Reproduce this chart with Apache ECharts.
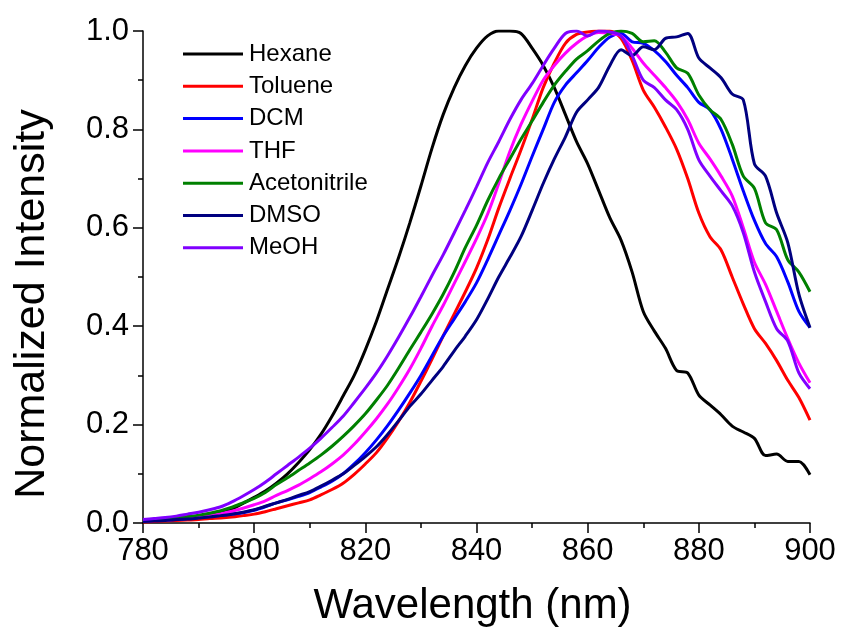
<!DOCTYPE html>
<html>
<head>
<meta charset="utf-8">
<script src="https://cdn.jsdelivr.net/npm/echarts@6/dist/echarts.min.js"></script>
<style>
  html, body { margin: 0; padding: 0; background: #fff; }
  #main { width: 843px; height: 630px; }
</style>
</head>
<body>
<div id="main"></div>
<script>
// wavelength grid (nm), 780..900 step 2
const wavelength = [780, 782, 784, 786, 788, 790, 792, 794, 796, 798, 800, 802, 804, 806, 808, 810,
  812, 814, 816, 818, 820, 822, 824, 826, 828, 830, 832, 834, 836, 838, 840, 842, 844, 846, 848, 850,
  852, 854, 856, 858, 860, 862, 864, 866, 868, 870, 872, 874, 876, 878, 880, 882, 884, 886, 888, 890,
  892, 894, 896, 898, 900]

const hexane = [0.004, 0.005, 0.006, 0.008, 0.011, 0.014, 0.018, 0.023, 0.029, 0.040, 0.052, 0.065,
  0.081, 0.100, 0.123, 0.149, 0.180, 0.217, 0.258, 0.300, 0.352, 0.410, 0.475, 0.540, 0.610, 0.685,
  0.762, 0.830, 0.885, 0.930, 0.965, 0.990, 1.000, 1.000, 0.995, 0.965, 0.930, 0.885, 0.830, 0.775,
  0.730, 0.675, 0.620, 0.575, 0.510, 0.430, 0.390, 0.355, 0.310, 0.305, 0.260, 0.240, 0.220, 0.197,
  0.185, 0.172, 0.137, 0.140, 0.125, 0.125, 0.098]

const toluene = [0.002, 0.003, 0.004, 0.005, 0.006, 0.007, 0.009, 0.010, 0.012, 0.015, 0.018, 0.023,
  0.029, 0.035, 0.041, 0.047, 0.057, 0.068, 0.081, 0.099, 0.120, 0.143, 0.173, 0.207, 0.245, 0.288,
  0.333, 0.380, 0.425, 0.470, 0.518, 0.575, 0.640, 0.700, 0.758, 0.820, 0.885, 0.935, 0.975, 0.993,
  0.998, 1.000, 1.000, 0.985, 0.940, 0.880, 0.845, 0.805, 0.760, 0.700, 0.630, 0.582, 0.555, 0.500,
  0.445, 0.395, 0.365, 0.330, 0.290, 0.255, 0.209]

const dcm = [0.004, 0.005, 0.006, 0.007, 0.009, 0.011, 0.013, 0.015, 0.018, 0.021, 0.026, 0.033,
  0.041, 0.047, 0.054, 0.062, 0.073, 0.085, 0.100, 0.120, 0.143, 0.169, 0.198, 0.230, 0.264, 0.300,
  0.340, 0.380, 0.415, 0.450, 0.488, 0.535, 0.585, 0.635, 0.688, 0.745, 0.800, 0.855, 0.890, 0.915,
  0.940, 0.967, 0.988, 0.995, 0.978, 0.975, 0.960, 0.938, 0.910, 0.885, 0.855, 0.840, 0.800, 0.740,
  0.675, 0.615, 0.568, 0.541, 0.490, 0.430, 0.397]

const thf = [0.004, 0.005, 0.006, 0.008, 0.010, 0.012, 0.015, 0.019, 0.024, 0.030, 0.037, 0.045,
  0.056, 0.066, 0.077, 0.090, 0.104, 0.120, 0.138, 0.160, 0.185, 0.212, 0.242, 0.276, 0.313, 0.355,
  0.400, 0.442, 0.487, 0.532, 0.578, 0.628, 0.690, 0.755, 0.810, 0.857, 0.900, 0.930, 0.955, 0.975,
  0.990, 0.997, 0.995, 0.990, 0.965, 0.935, 0.910, 0.885, 0.857, 0.820, 0.772, 0.740, 0.705, 0.665,
  0.600, 0.530, 0.485, 0.430, 0.375, 0.325, 0.285]

const acetonitrile = [0.005, 0.006, 0.008, 0.010, 0.013, 0.016, 0.020, 0.025, 0.032, 0.041, 0.050,
  0.062, 0.078, 0.092, 0.107, 0.122, 0.138, 0.156, 0.176, 0.198, 0.222, 0.250, 0.280, 0.315, 0.352,
  0.388, 0.425, 0.465, 0.510, 0.560, 0.605, 0.655, 0.700, 0.740, 0.780, 0.817, 0.855, 0.890, 0.918,
  0.943, 0.960, 0.980, 0.995, 1.000, 0.995, 0.978, 0.980, 0.957, 0.925, 0.914, 0.870, 0.840, 0.820,
  0.770, 0.705, 0.680, 0.610, 0.596, 0.535, 0.510, 0.470]

const dmso = [0.003, 0.004, 0.005, 0.007, 0.008, 0.010, 0.012, 0.015, 0.018, 0.022, 0.027, 0.034,
  0.041, 0.048, 0.056, 0.064, 0.075, 0.087, 0.100, 0.117, 0.135, 0.155, 0.180, 0.208, 0.237, 0.262,
  0.290, 0.318, 0.350, 0.380, 0.413, 0.455, 0.500, 0.540, 0.582, 0.635, 0.690, 0.740, 0.785, 0.835,
  0.860, 0.886, 0.930, 0.962, 0.950, 0.968, 0.962, 0.985, 0.988, 0.995, 0.945, 0.925, 0.905, 0.872,
  0.860, 0.730, 0.705, 0.630, 0.570, 0.465, 0.397]

const meoh = [0.007, 0.009, 0.011, 0.014, 0.018, 0.022, 0.027, 0.033, 0.043, 0.055, 0.068, 0.083,
  0.100, 0.117, 0.134, 0.152, 0.172, 0.194, 0.217, 0.245, 0.274, 0.305, 0.340, 0.378, 0.418, 0.460,
  0.503, 0.545, 0.590, 0.636, 0.683, 0.732, 0.775, 0.820, 0.860, 0.893, 0.930, 0.965, 0.995, 1.000,
  0.990, 1.000, 0.998, 0.990, 0.950, 0.900, 0.885, 0.860, 0.840, 0.800, 0.738, 0.705, 0.675, 0.645,
  0.590, 0.510, 0.450, 0.395, 0.370, 0.305, 0.273]

const names = ['Hexane', 'Toluene', 'DCM', 'THF', 'Acetonitrile', 'DMSO', 'MeOH']
const colors = ['#000000', '#ff0000', '#0000ff', '#ff00ff', '#008000', '#000080', '#8000ff']
const values = [hexane, toluene, dcm, thf, acetonitrile, dmso, meoh]

const font = 'Arial, "Liberation Sans", sans-serif'

const chart = echarts.init(document.getElementById('main'))

const series = names.map((name, k) => ({
  name: name,
  type: 'line',
  data: wavelength.map((w, i) => [w, values[k][i]]),
  symbol: 'none',
  smooth: 0.3,
  lineStyle: { color: colors[k], width: 3 },
  itemStyle: { color: colors[k] }
}))

chart.setOption({
  animation: false,
  backgroundColor: '#fff',
  grid: {
    left: 143,
    right: 33,
    top: 31,
    bottom: 107,
    containLabel: false,
    outerBoundsMode: 'none'
  },
  legend: {
    data: names,
    orient: 'vertical',
    left: 178,
    top: 37,
    icon: 'rect',
    itemWidth: 60,
    itemHeight: 3,
    itemGap: 8.3,
    textStyle: { fontFamily: font, fontSize: 24, lineHeight: 24, color: '#000', padding: [0, 0, 0, 1] }
  },
  xAxis: {
    type: 'value',
    min: 780,
    max: 900,
    interval: 20,
    name: 'Wavelength (nm)',
    nameLocation: 'middle',
    nameGap: 62,
    nameTextStyle: { fontFamily: font, fontSize: 42, color: '#000', padding: [0, 8, 0, 0] },
    axisLine: { lineStyle: { color: '#000', width: 1.5 } },
    axisTick: { show: true, length: 10, lineStyle: { color: '#000', width: 1.5 } },
    minorTick: { show: true, splitNumber: 2, length: 5, lineStyle: { color: '#000', width: 1.5 } },
    axisLabel: { fontFamily: font, fontSize: 31, color: '#000', margin: 13 },
    splitLine: { show: false }
  },
  yAxis: {
    type: 'value',
    min: 0,
    max: 1,
    interval: 0.2,
    name: 'Normalized Intensity',
    nameLocation: 'middle',
    nameGap: 89,
    nameTextStyle: { fontFamily: font, fontSize: 43, color: '#000', padding: [0, 54, 0, 0] },
    axisLine: { show: true, lineStyle: { color: '#000', width: 1.5 } },
    axisTick: { show: true, length: 10, lineStyle: { color: '#000', width: 1.5 } },
    minorTick: { show: true, splitNumber: 2, length: 5, lineStyle: { color: '#000', width: 1.5 } },
    axisLabel: { fontFamily: font, fontSize: 31, color: '#000', margin: 14, formatter: v => v.toFixed(1) },
    splitLine: { show: false }
  },
  series: series
})
</script>
</body>
</html>
